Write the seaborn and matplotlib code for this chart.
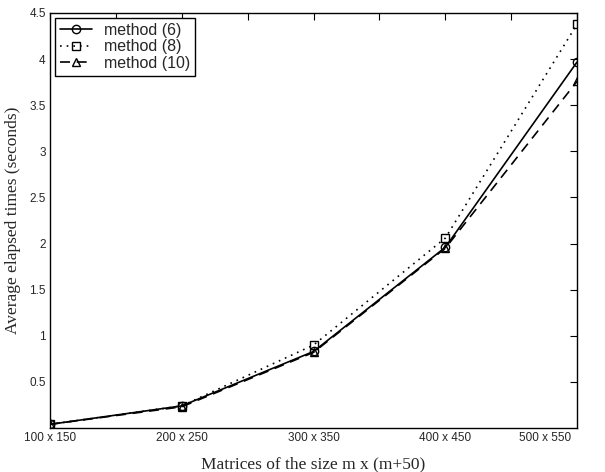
import matplotlib
matplotlib.use("Agg")
import matplotlib.pyplot as plt
import matplotlib.transforms as mtransforms
import seaborn as sns
import pandas as pd
from matplotlib.ticker import MultipleLocator

sizes = ["100 x 150", "200 x 250", "300 x 350", "400 x 450", "500 x 550"]
method6 = [0.04, 0.24, 0.83, 1.96, 3.97]
method8 = [0.04, 0.24, 0.90, 2.06, 4.38]
method10 = [0.04, 0.23, 0.82, 1.95, 3.76]
labels = ["method (6)", "method (8)", "method (10)"]

rows = []
for lab, vals in zip(labels, [method6, method8, method10]):
    for i, v in enumerate(vals):
        rows.append({"pos": i + 1, "time": v, "method": lab})
df = pd.DataFrame(rows)

sns.set_style("white")
plt.rcParams["font.family"] = ["Liberation Sans", "DejaVu Sans"]

fig = plt.figure(figsize=(6.05, 4.72), dpi=100)
ax = fig.add_axes([0.0826, 0.0932, 0.8714, 0.8793])

sns.lineplot(
    data=df, x="pos", y="time", hue="method", style="method",
    palette={l: "black" for l in labels},
    markers={"method (6)": "o", "method (8)": "s", "method (10)": "^"},
    dashes={"method (6)": "", "method (8)": (1, 3), "method (10)": (6, 4)},
    markersize=6, markerfacecolor="none", markeredgecolor="black",
    markeredgewidth=1.0, linewidth=1.2, ax=ax, legend=True,
)
for line in ax.get_lines():
    line.set_markerfacecolor("none")
    line.set_markeredgecolor("black")

ax.set_xlim(1, 5)
ax.set_ylim(0, 4.5)
ax.set_xticks([1, 2, 3, 4, 5])
ax.set_xticklabels(sizes)
ax.xaxis.set_minor_locator(MultipleLocator(0.5))
ax.set_yticks([0.5, 1, 1.5, 2, 2.5, 3, 3.5, 4, 4.5])
ax.set_yticklabels(["0.5", "1", "1.5", "2", "2.5", "3", "3.5", "4", "4.5"])
ax.tick_params(axis="both", which="both", direction="in", top=True, right=True,
               labelsize=8.5, color="black", length=5, width=0.8, pad=3)
for s in ax.spines.values():
    s.set_visible(True)
    s.set_color("black")
    s.set_linewidth(1.0)

# shift the last x tick label left so it stays inside the figure
last = ax.get_xticklabels()[-1]
last.set_transform(last.get_transform() + mtransforms.ScaledTranslation(-0.32, 0, fig.dpi_scale_trans))

ax.set_xlabel("Matrices of the size m x (m+50)", family=["Liberation Serif"], fontsize=12.5, labelpad=9)
ax.set_ylabel("Average elapsed times (seconds)", family=["Liberation Serif"], fontsize=12.5, labelpad=6)

handles, labs = ax.get_legend_handles_labels()
for h in handles:
    h.set_markerfacecolor("none")
    h.set_markeredgecolor("black")
leg = ax.legend(handles, labs, loc="upper left", fontsize=11.5, frameon=True, fancybox=False,
                edgecolor="black", framealpha=1, handlelength=2.0, borderaxespad=0.3,
                labelspacing=0.1, handletextpad=0.8, borderpad=0.3)
leg.get_frame().set_linewidth(1.0)

fig.savefig("out.png", dpi=100)
